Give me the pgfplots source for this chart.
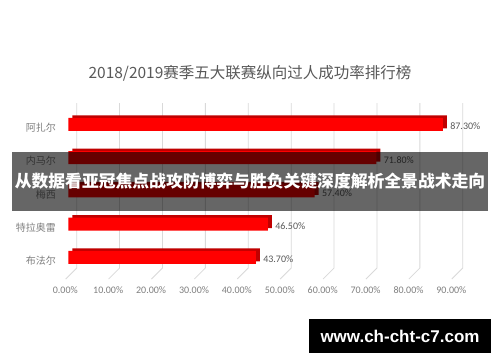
\documentclass[border=0pt]{standalone}
\usepackage{pgfplots}
\pgfplotsset{compat=1.18}
\usepackage{fontspec}
\setmainfont{Carlito}
\newfontfamily\cjk{Noto Sans CJK SC}
\newfontfamily\wm{Liberation Sans}
\definecolor{titlegray}{HTML}{595959}
\definecolor{labgray}{HTML}{7F7F7F}
\definecolor{gridgray}{HTML}{D9D9D9}
\definecolor{barside}{HTML}{C00000}
\begin{document}
\begin{tikzpicture}
\path[use as bounding box, fill=white] (0,0) rectangle (500pt,362pt);
\node[text=titlegray, font=\cjk\fontsize{15.5}{18}\selectfont] at (250pt,289pt) {2018/2019赛季五大联赛纵向过人成功率排行榜};
\begin{axis}[
  at={(68.3pt,85.6pt)}, anchor=south west,
  scale only axis, width=386.1pt, height=168.6pt,
  xmin=0, xmax=90, ymin=-0.5, ymax=4.57, y dir=reverse,
  xbar, bar width=13pt,
  xtick={0,10,...,90},
  xticklabel={\pgfmathprintnumber[fixed,fixed zerofill,precision=2]{\tick}\%},
  /pgf/number format/assume math mode=true,
  xticklabel style={font=\fontsize{10}{12}\selectfont, text=labgray, yshift=-7pt, xshift=-3pt},
  ytick={0,...,4},
  yticklabels={阿扎尔,内马尔,梅西,特拉奥雷,布法尔},
  yticklabel style={font=\cjk\fontsize{10}{12}\selectfont, text=labgray, xshift=-9pt, yshift=-3.5pt},
  axis line style={draw=none}, major tick length=0pt,
  point meta=x,
  clip=false,
]
\pgfplotsinvokeforeach{0,10,...,90}{
  \draw[gridgray, line width=0.8pt] (axis cs:#1,4.57) ++(-2.6pt,-2.6pt) -- ++(11pt,11pt) -- ++(0pt,165pt);
}
\addplot[fill=barside, draw=none, bar shift=0pt, xshift=4pt, yshift=2.5pt] coordinates {(87.3,0) (71.8,1) (57.4,2) (46.5,3) (43.7,4)};
\addplot[fill=red, draw=none, bar shift=0pt,
  nodes near coords={\pgfmathprintnumber[fixed,fixed zerofill,precision=2]{\pgfplotspointmeta}\%},
  every node near coord/.append style={font=\fontsize{10}{12}\selectfont, text=titlegray, anchor=west, xshift=4pt, yshift=-2pt}]
  coordinates {(87.3,0) (71.8,1) (57.4,2) (46.5,3) (43.7,4)};
\end{axis}
\fill[black, opacity=0.6] (12pt,151pt) rectangle (488pt,210pt);
\node[text=white, font=\cjk\bfseries\fontsize{16.8}{19}\selectfont] at (250pt,180.5pt) {从数据看亚冠焦点战攻防博弈与胜负关键深度解析全景战术走向};
\fill[black] (309pt,9pt) rectangle (491pt,43pt);
\node[text=white, font=\wm\bfseries\fontsize{17}{20}\selectfont] at (400pt,26pt) {www.ch-cht-c7.com};
\end{tikzpicture}
\end{document}
